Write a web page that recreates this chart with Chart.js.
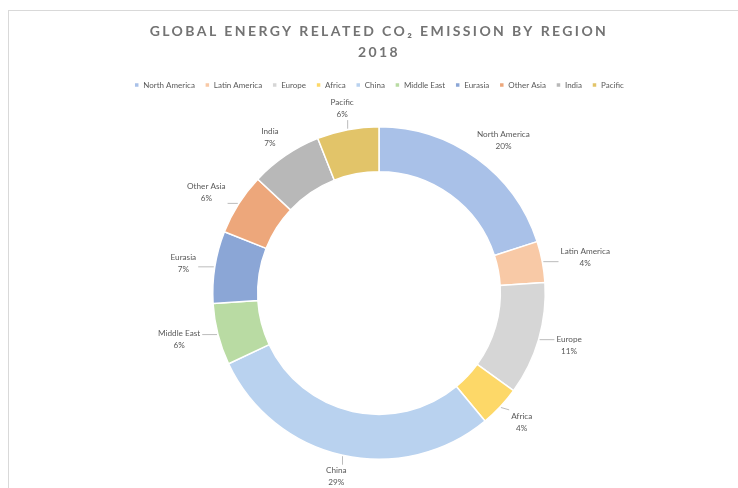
<!DOCTYPE html>
<html><head><meta charset="utf-8">
<script src="https://cdn.jsdelivr.net/npm/chart.js@4/dist/chart.umd.min.js"></script>
<style>html,body{margin:0;padding:0;background:#fff;}#wrap{width:738px;height:488px;position:relative;}</style>
</head><body><div id="wrap"><canvas id="c" width="738" height="488"></canvas></div>
<script>
const titleLines = ['GLOBAL ENERGY RELATED CO\u2082 EMISSION BY REGION', '2018'];
const regions = ['North America','Latin America','Europe','Africa','China','Middle East','Eurasia','Other Asia','India','Pacific'];
const shares = [20,4,11,4,29,6,7,6,7,6];
const sliceColors = ['#a9c1e8','#f8c9a6','#d6d6d6','#fdd868','#b9d2ef','#b9dba3','#8ba6d6','#eda77b','#b8b8b8','#e2c469'];

const FONT = 'Lato, "Open Sans", sans-serif';

const frame = {
  id: 'frame',
  beforeDraw(chart) {
    const ctx = chart.ctx;
    ctx.save();
    ctx.fillStyle = '#ffffff';
    ctx.fillRect(0, 0, chart.width, chart.height);
    ctx.strokeStyle = '#d9d9d9';
    ctx.lineWidth = 1;
    ctx.strokeRect(8.5, 10.5, chart.width + 10, chart.height + 10);
    ctx.restore();
    if (chart.titleBlock && !chart.titleBlock._spaced) {
      const tb = chart.titleBlock, orig = tb.draw;
      tb.draw = function () { const c = this.ctx; c.save(); c.letterSpacing = '2.4px'; orig.apply(this, arguments); c.restore(); };
      tb._spaced = true;
    }
  },
  beforeLayout(chart) {
    if (chart.legend && !chart.legend._extra) {
      const lg = chart.legend, fit = lg.fit;
      lg.fit = function () { fit.apply(this, arguments); this.height += 27; };
      lg._extra = true;
    }
  }
};

const outsideLabels = {
  id: 'outsideLabels',
  afterDatasetsDraw(chart) {
    const ctx = chart.ctx;
    const meta = chart.getDatasetMeta(0);
    const data = chart.data.datasets[0].data;
    const total = data.reduce((a, b) => a + b, 0);
    ctx.save();
    ctx.font = '8.2px ' + FONT;
    ctx.fillStyle = '#595959';
    ctx.strokeStyle = '#a6a6a6';
    ctx.lineWidth = 0.75;
    ctx.textAlign = 'center';
    ctx.textBaseline = 'middle';
    meta.data.forEach((arc, i) => {
      const p = arc.getProps(['x', 'y', 'startAngle', 'endAngle', 'outerRadius'], true);
      const mid = (p.startAngle + p.endAngle) / 2;
      const c = Math.cos(mid), s = Math.sin(mid);
      const l1 = chart.data.labels[i];
      const l2 = Math.round(data[i] / total * 100) + '%';
      const w = Math.max(ctx.measureText(l1).width, ctx.measureText(l2).width);
      const h = 24;
      const r = p.outerRadius + 19;
      const cx = p.x + c * r + c * w / 2;
      const cy = p.y + s * (r + 3);
      const x0 = p.x + c * (p.outerRadius + 1), y0 = p.y + s * (p.outerRadius + 1);
      const qx = Math.min(Math.max(x0, cx - w / 2 - 2), cx + w / 2 + 2);
      const qy = Math.min(Math.max(y0, cy - h / 2), cy + h / 2);
      if (Math.hypot(qx - x0, qy - y0) > 7) {
        ctx.beginPath(); ctx.moveTo(x0, y0); ctx.lineTo(qx, qy); ctx.stroke();
      }
      ctx.fillText(l1, cx, cy - 6);
      ctx.fillText(l2, cx, cy + 6);
    });
    ctx.restore();
  }
};

new Chart(document.getElementById('c'), {
  type: 'doughnut',
  data: {
    labels: regions,
    datasets: [{
      data: shares,
      backgroundColor: sliceColors,
      borderColor: '#ffffff',
      borderWidth: 1.5,
      cutout: '73%'
    }]
  },
  options: {
    responsive: false,
    animation: false,
    devicePixelRatio: 1,
    layout: { padding: { left: 20, right: 0, top: 0, bottom: 28 } },
    plugins: {
      title: {
        display: true,
        text: titleLines,
        color: '#737373',
        font: { family: FONT, size: 14, weight: 'bold', lineHeight: 1.5 },
        padding: { top: 21, bottom: 8 }
      },
      legend: {
        display: true,
        position: 'top',
        labels: {
          color: '#595959',
          font: { family: FONT, size: 8 },
          boxWidth: 5,
          boxHeight: 5,
          padding: 10
        }
      },
      tooltip: { enabled: false }
    }
  },
  plugins: [frame, outsideLabels]
});
</script></body></html>
